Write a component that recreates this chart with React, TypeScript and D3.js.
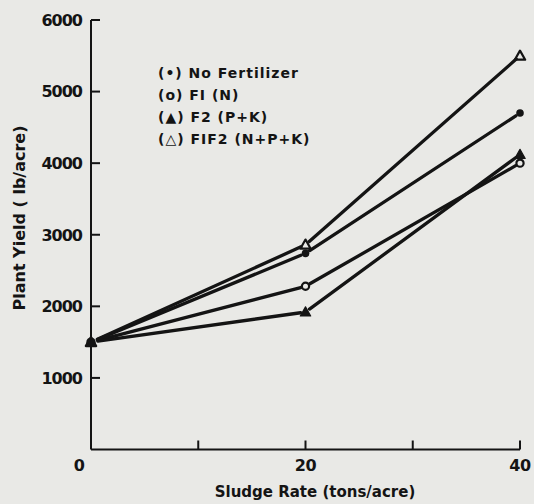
import React from "react";
import * as d3 from "d3";

const sludgeRates = [0, 20, 40];
const noFertilizer = [1500, 2740, 4700];
const f1N = [1500, 2280, 4000];
const f2PK = [1500, 1920, 4120];
const f1f2NPK = [1500, 2860, 5500];
const xTicks = [0, 10, 20, 30, 40];
const xTickLabels = ["0", "", "20", "", "40"];
const yTicks = [1000, 2000, 3000, 4000, 5000, 6000];
const legendLabels = ["(\u2022) No Fertilizer", "(o) FI (N)", "(\u25B2) F2 (P+K)", "(\u25B3) FIF2 (N+P+K)"];

const W = 534;
const H = 504;
const INK = "#141414";
const FONT = "'DejaVu Sans', Arial, sans-serif";

type Marker = "dot" | "circle" | "tri" | "otri";
const series: { values: number[]; marker: Marker }[] = [
  { values: noFertilizer, marker: "dot" },
  { values: f1N, marker: "circle" },
  { values: f2PK, marker: "tri" },
  { values: f1f2NPK, marker: "otri" },
];

function MarkerShape({ type, cx, cy }: { type: Marker; cx: number; cy: number }) {
  if (type === "dot") return <circle cx={cx} cy={cy} r={3.8} fill={INK} />;
  if (type === "circle")
    return <circle cx={cx} cy={cy} r={3.6} fill="none" stroke={INK} strokeWidth={2.2} />;
  const s = 5.2;
  const pts = `${cx},${cy - s} ${cx + s},${cy + s * 0.75} ${cx - s},${cy + s * 0.75}`;
  if (type === "tri") return <polygon points={pts} fill={INK} stroke={INK} strokeWidth={1.2} strokeLinejoin="round" />;
  return <polygon points={pts} fill="none" stroke={INK} strokeWidth={2.2} strokeLinejoin="round" />;
}

export default function App() {
  const x = d3.scaleLinear().domain([0, 40]).range([91, 520]);
  const y = d3.scaleLinear().domain([0, 6000]).range([449.5, 20]);
  const gap = 5;

  return (
    <svg width={W} height={H} style={{ position: "absolute", left: 0, top: 0, background: "#e9e9e6" }}>
      <rect x={0} y={0} width={W} height={H} fill="#e9e9e6" />
      {/* axes */}
      <line x1={x(0)} y1={y(0)} x2={x(0)} y2={y(6000)} stroke={INK} strokeWidth={2} />
      <line x1={x(0)} y1={y(0)} x2={x(40)} y2={y(0)} stroke={INK} strokeWidth={2} />
      {yTicks.map((t) => (
        <g key={t}>
          <line x1={x(0)} x2={x(0) + 9} y1={y(t)} y2={y(t)} stroke={INK} strokeWidth={2} />
          <text x={x(0) - 9} y={y(t)} dy="0.36em" textAnchor="end" fontFamily={FONT} fontWeight="bold" fontSize={16} fill={INK} letterSpacing={-1}>
            {t}
          </text>
        </g>
      ))}
      {xTicks.map((t, i) => (
        <g key={t}>
          {t > 0 && <line x1={x(t)} x2={x(t)} y1={y(0)} y2={y(0) - 9} stroke={INK} strokeWidth={2} />}
          {xTickLabels[i] && (
            <text x={t === 0 ? x(t) - 12 : x(t)} y={471} textAnchor="middle" fontFamily={FONT} fontWeight="bold" fontSize={16} fill={INK} letterSpacing={-0.5}>
              {xTickLabels[i]}
            </text>
          )}
        </g>
      ))}
      <text x={315} y={497} textAnchor="middle" fontFamily={FONT} fontWeight="bold" fontSize={15} fill={INK}>
        Sludge Rate (tons/acre)
      </text>
      <text transform={`translate(25,${218}) rotate(-90)`} textAnchor="middle" fontFamily={FONT} fontWeight="bold" fontSize={16} fill={INK}>
        Plant Yield ( lb/acre)
      </text>
      {/* lines */}
      {series.map((s, si) => (
        <g key={si}>
          {s.values.slice(1).map((v, i) => {
            const x1 = x(sludgeRates[i]);
            const y1 = y(s.values[i]);
            const x2 = x(sludgeRates[i + 1]);
            const y2 = y(v);
            const len = Math.hypot(x2 - x1, y2 - y1);
            const ux = (x2 - x1) / len;
            const uy = (y2 - y1) / len;
            const g1 = i === 0 ? gap + 2 : gap;
            return (
              <line key={i} x1={x1 + ux * g1} y1={y1 + uy * g1} x2={x2 - ux * gap} y2={y2 - uy * gap} stroke={INK} strokeWidth={3.3} strokeLinecap="round" />
            );
          })}
          {s.values.map((v, i) => (
            <MarkerShape key={i} type={s.marker} cx={x(sludgeRates[i])} cy={y(v)} />
          ))}
        </g>
      ))}
      {/* legend */}
      {legendLabels.map((l, i) => (
        <text key={i} x={158} y={78 + i * 22} fontFamily={FONT} fontWeight="bold" fontSize={14} fill={INK} letterSpacing={1} style={{ whiteSpace: "pre" }}>
          {l}
        </text>
      ))}
    </svg>
  );
}
